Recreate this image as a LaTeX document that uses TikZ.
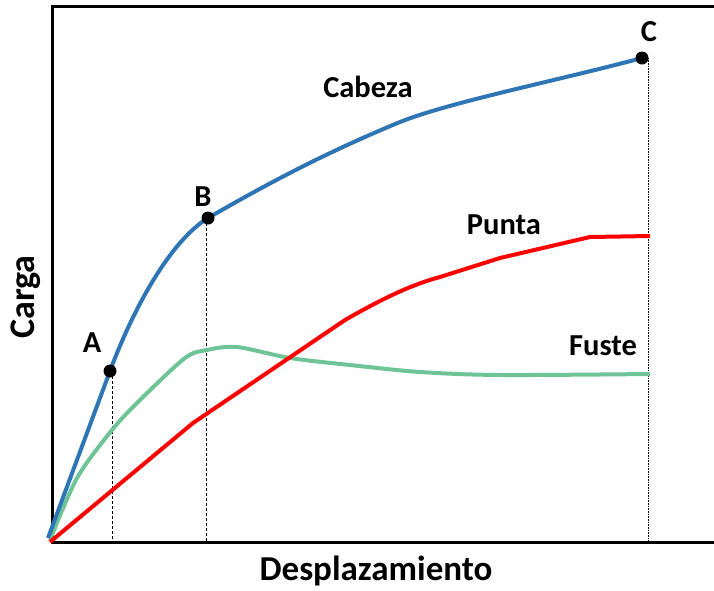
\documentclass[tikz,border=0pt]{standalone}
\usepackage{fontspec}
\setmainfont{Carlito}
\usepackage{tikz}
\usetikzlibrary{calc}
\definecolor{cabeza}{RGB}{46,117,182}
\definecolor{punta}{RGB}{255,0,0}
\definecolor{fuste}{RGB}{110,196,150}

\begin{document}
\begin{tikzpicture}[x=1pt,y=-1pt,every node/.style={inner sep=0,outer sep=0,font=\bfseries\fontsize{30.5}{34}\selectfont}]
    \useasboundingbox (0,0) rectangle (714,590);
    \coordinate (o) at (52,542);
    \coordinate (A) at (110,371); \coordinate (B) at (208,218); \coordinate (C) at (642,58);

    % frame
    \draw[line width=3pt] (714,6) -- (52,6) -- (o) -- (714,542);

    % guide lines
    \draw[densely dashed, line width=0.5pt] (112,371) -- (112,542);
    \draw[densely dashed, line width=0.5pt] (206,218) -- (206,542);
    \draw[densely dotted, line width=0.6pt] (648,58) -- (648,542);

    % curves
    \draw[fuste, line width=4pt, line join=round] plot[smooth, tension=0.5] coordinates {(50,540) (77,478) (112,430) (140,400) (185,358) (207,350) (237,347) (290,358) (350,365) (420,372) (500,375) (650,374)};
    \draw[punta, line width=4pt, line join=round] (50,542) -- (193,423) -- (345,320) .. controls (380,300) and (410,285) .. (440,277) -- (500,258) -- (590,237) -- (650,236);
    \draw[cabeza, line width=4pt, line join=round] (48,538) -- (A) .. controls (135,304) and (172,240) .. (B) .. controls (260,188) and (320,155) .. (400,122) .. controls (450,102) and (560,80) .. (C);

    \foreach \p in {A,B,C} \fill (\p) circle (6.5pt);

    \node (lA) at (92,343) {A};
    \node (lB) at (203,197) {B};
    \node (lC) at (649,32) {C};
    \node (cab) at (368,87) {Cabeza};
    \node (pun) at (504,225) {Punta};
    \node (fus) at (603,346) {Fuste};
    \node[rotate=90, font=\bfseries\fontsize{36}{40}\selectfont] (carga) at (26,297) {Carga};
    \node[font=\bfseries\fontsize{35}{40}\selectfont] (desp) at (376,571) {Desplazamiento};
\end{tikzpicture}
\end{document}
